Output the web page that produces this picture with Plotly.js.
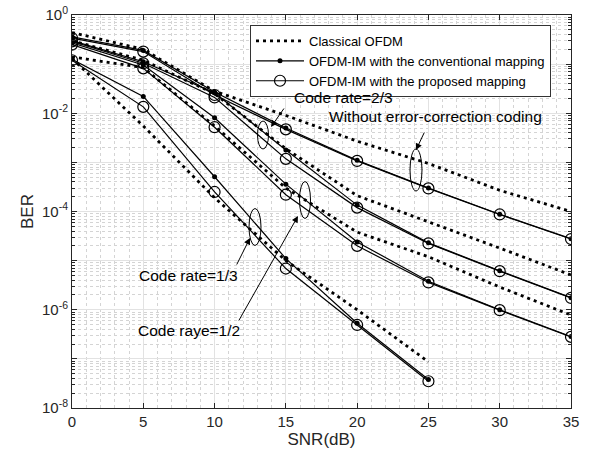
<!DOCTYPE html>
<html>
<head>
<meta charset="utf-8">
<script src="https://cdn.plot.ly/plotly-3.0.1.min.js"></script>
<style>html,body{margin:0;padding:0;background:#fff;}#chart{width:591px;height:458px;}</style>
</head>
<body>
<div id="chart"></div>
<script>
// ---- data ----
const snr = [0, 5, 10, 15, 20, 25, 30, 35];
const snrRate13 = [0, 5, 10, 15, 20, 25];

const uncodedClassical = [0.44, 0.2, 2.8e-2, 9.0e-3, 2.7e-3, 9.5e-4, 2.7e-4, 1.0e-4];
const uncodedConv      = [0.36, 0.19, 2.7e-2, 5.0e-3, 1.1e-3, 3.0e-4, 8.8e-5, 2.8e-5];
const uncodedProp      = [0.34, 0.18, 2.35e-2, 4.7e-3, 1.07e-3, 2.95e-4, 8.7e-5, 2.75e-5];

const rate23Classical = [0.30, 0.12, 2.5e-2, 1.9e-3, 2.1e-4, 6.2e-5, 1.8e-5, 5.1e-6];
const rate23Conv      = [0.30, 0.112, 2.6e-2, 1.78e-3, 1.35e-4, 2.3e-5, 6.2e-6, 1.76e-6];
const rate23Prop      = [0.29, 0.104, 2.1e-2, 1.18e-3, 1.2e-4, 2.24e-5, 6.1e-6, 1.74e-6];

const rate12Classical = [0.14, 0.085, 5.5e-3, 3.0e-4, 3.8e-5, 1.2e-5, 2.9e-6, 7.8e-7];
const rate12Conv      = [0.27, 0.096, 8.1e-3, 3.6e-4, 2.4e-5, 3.8e-6, 1.0e-6, 2.85e-7];
const rate12Prop      = [0.25, 0.082, 5.2e-3, 2.2e-4, 2.0e-5, 3.6e-6, 9.8e-7, 2.8e-7];

const rate13Classical = [0.13, 5.5e-3, 1.9e-4, 1.0e-5, 1.0e-6, 8.7e-8];
const rate13Conv      = [0.125, 2.2e-2, 5.1e-4, 1.1e-5, 5.3e-7, 3.8e-8];
const rate13Prop      = [0.12, 1.35e-2, 2.5e-4, 6.9e-6, 4.9e-7, 3.5e-8];

const legendNames = ['Classical OFDM', 'OFDM-IM with the conventional mapping', 'OFDM-IM with the proposed mapping'];
const yTickVals = [1, 1e-1, 1e-2, 1e-3, 1e-4, 1e-5, 1e-6, 1e-7, 1e-8];
const yTickText = ['10<sup>0</sup>', '', '10<sup>-2</sup>', '', '10<sup>-4</sup>', '', '10<sup>-6</sup>', '', '10<sup>-8</sup>'];
const xTickVals = [0, 5, 10, 15, 20, 25, 30, 35];

// ---- styles ----
const FONT = 'Liberation Sans, Arial, sans-serif';
const classicalStyle = {mode: 'lines', line: {color: '#000', width: 2.8, dash: '3px,4px'}};
const convStyle = {mode: 'lines+markers', line: {color: '#000', width: 1.2}, marker: {symbol: 'circle', size: 5, color: '#000'}};
const propStyle = {mode: 'lines+markers', line: {color: '#000', width: 1.2}, marker: {symbol: 'circle-open', size: 11, color: '#000', line: {width: 1.2, color: '#000'}}};

function mk(x, y, style, group, show) {
  return Object.assign({x: x, y: y, type: 'scatter', name: legendNames[group], showlegend: show}, JSON.parse(JSON.stringify(style)));
}

const traces = [
  mk(snr, uncodedClassical, classicalStyle, 0, true),
  mk(snr, uncodedConv, convStyle, 1, true),
  mk(snr, uncodedProp, propStyle, 2, true),
  mk(snr, rate23Classical, classicalStyle, 0, false),
  mk(snr, rate23Conv, convStyle, 1, false),
  mk(snr, rate23Prop, propStyle, 2, false),
  mk(snr, rate12Classical, classicalStyle, 0, false),
  mk(snr, rate12Conv, convStyle, 1, false),
  mk(snr, rate12Prop, propStyle, 2, false),
  mk(snrRate13, rate13Classical, classicalStyle, 0, false),
  mk(snrRate13, rate13Conv, convStyle, 1, false),
  mk(snrRate13, rate13Prop, propStyle, 2, false)
];

// plot-area geometry (pixels) for paper-referenced decorations
const M = {l: 72, r: 20, t: 15, b: 50};
const W = 591, H = 458;
const PW = W - M.l - M.r, PH = H - M.t - M.b;
const px = v => (v - M.l) / PW;
const py = v => 1 - (v - M.t) / PH;

function ellipse(cx, cy, w, h) {
  return {type: 'circle', xref: 'paper', yref: 'paper', x0: px(cx - w / 2), x1: px(cx + w / 2), y0: py(cy + h / 2), y1: py(cy - h / 2), line: {color: '#000', width: 1}};
}
function arrow(tx, ty, hx, hy) {
  return {xref: 'paper', yref: 'paper', x: px(hx), y: py(hy), ax: tx - hx, ay: ty - hy, axref: 'pixel', ayref: 'pixel', text: '', showarrow: true, arrowhead: 2, arrowsize: 1.3, arrowwidth: 1, arrowcolor: '#000'};
}
function label(text, lx, cy) {
  return {xref: 'paper', yref: 'paper', x: px(lx), y: py(cy), xanchor: 'left', yanchor: 'middle', text: text, showarrow: false, font: {family: FONT, size: 15.5, color: '#000'}};
}

const layout = {
  width: W, height: H,
  margin: M,
  paper_bgcolor: '#fff', plot_bgcolor: '#fff',
  font: {family: FONT, color: '#000'},
  showlegend: true,
  legend: {x: px(250), y: py(25), xanchor: 'left', yanchor: 'top', bgcolor: '#fff', bordercolor: '#333', borderwidth: 1, itemwidth: 48, font: {family: FONT, size: 13, color: '#000'}},
  xaxis: {
    range: [0, 35], tickmode: 'array', tickvals: xTickVals,
    ticks: 'inside', ticklen: 5, tickcolor: '#262626', showline: true, linecolor: '#262626', linewidth: 1, mirror: 'ticks',
    showgrid: true, gridcolor: '#e2e2e2', gridwidth: 1, zeroline: false,
    minor: {dtick: 1, showgrid: true, gridcolor: '#d4d4d4', griddash: 'dot', ticks: ''},
    tickfont: {family: FONT, size: 15, color: '#262626'},
    title: {text: 'SNR(dB)', font: {family: FONT, size: 17, color: '#262626'}, standoff: 4}
  },
  yaxis: {
    type: 'log', range: [-8, 0], tickmode: 'array', tickvals: yTickVals, ticktext: yTickText,
    ticks: 'inside', ticklen: 5, tickcolor: '#262626', showline: true, linecolor: '#262626', linewidth: 1, mirror: 'ticks',
    showgrid: true, gridcolor: '#e2e2e2', gridwidth: 1, zeroline: false,
    minor: {dtick: 'D1', showgrid: true, gridcolor: '#d4d4d4', griddash: 'dot', ticks: 'inside', ticklen: 3, tickcolor: '#262626'},
    tickfont: {family: FONT, size: 15, color: '#262626'},
    title: {text: 'BER', font: {family: FONT, size: 17, color: '#262626'}, standoff: 4}
  },
  shapes: [
    ellipse(263, 135, 11, 28),
    ellipse(416, 170, 12, 42),
    ellipse(305, 200, 11, 37),
    ellipse(255, 227, 12, 37)
  ],
  annotations: [
    label('Code rate=2/3', 292, 98),
    label('Without error-correction coding', 327, 116),
    label('Code rate=1/3', 137, 275),
    label('Code raye=1/2', 136, 330),
    arrow(285, 107, 271, 127),
    arrow(425, 131, 416, 150),
    arrow(236, 266, 250, 238),
    arrow(238, 322, 298, 216)
  ]
};

Plotly.newPlot('chart', traces, layout, {displayModeBar: false, staticPlot: true});
</script>
</body>
</html>
